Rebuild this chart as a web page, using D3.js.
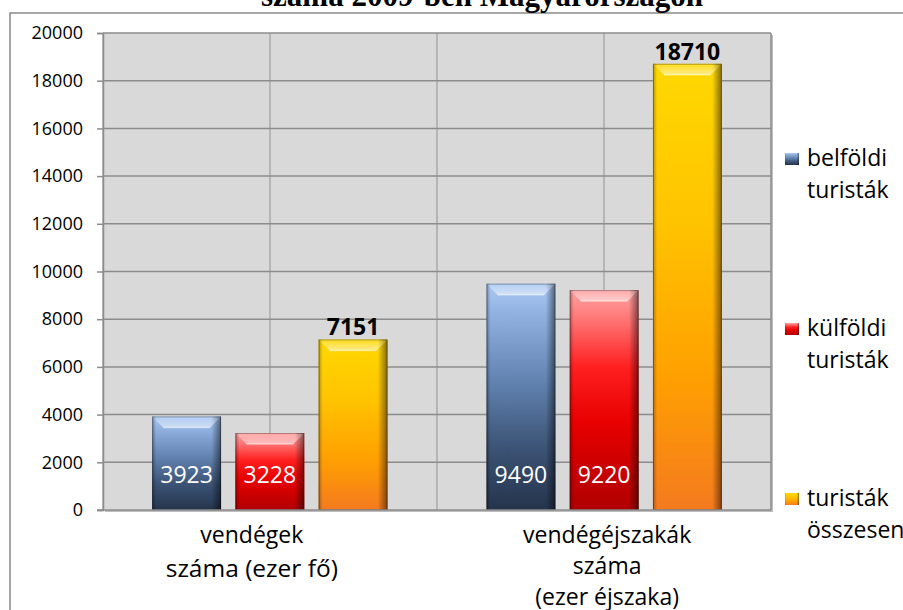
<!DOCTYPE html>
<html>
<head>
<meta charset="utf-8">
<script src="https://cdn.jsdelivr.net/npm/d3@7"></script>
<style>
  body { margin: 0; background: #fff; }
  svg { display: block; }
  text { font-family: "Open Sans", sans-serif; }
</style>
</head>
<body>
<div id="chart"></div>
<script>
// data
const categoryLabels = [["vendégek", "száma (ezer fő)"], ["vendégéjszakák", "száma", "(ezer éjszaka)"]];
const categories = categoryLabels.map(l => l.join(" "));
const seriesNames = ["belföldi turisták", "külföldi turisták", "turisták összesen"];
const belfoldi = [3923, 9490];
const kulfoldi = [3228, 9220];
const osszesen = [7151, 18710];
const yTicks = [0, 2000, 4000, 6000, 8000, 10000, 12000, 14000, 16000, 18000, 20000];
const legendLines = [["belföldi", "turisták"], ["külföldi", "turisták"], ["turisták", "összesen"]];
const titleText = "száma 2009-ben Magyarországon";

const seriesValues = [belfoldi, kulfoldi, osszesen];

const W = 903, H = 610;
const plot = { left: 103, right: 771, top: 33, bottom: 510 };

const svg = d3.select("#chart").append("svg")
    .attr("width", W)
    .attr("height", H);

const defs = svg.append("defs");

// bar body gradients (blue, red, orange)
const gradStops = [
  [["0%", "#abc9f3"], ["12%", "#93b4e3"], ["45%", "#5f80ad"], ["72%", "#3c5476"], ["100%", "#25344c"]],
  [["0%", "#ffa3a3"], ["12%", "#ff7a7a"], ["35%", "#ff2020"], ["60%", "#e80000"], ["100%", "#b00000"]],
  [["0%", "#ffd800"], ["35%", "#ffc400"], ["70%", "#ffa000"], ["100%", "#f47a1f"]]
];
gradStops.forEach((stops, i) => {
  const g = defs.append("linearGradient")
      .attr("id", "body" + i)
      .attr("x1", 0).attr("y1", 0).attr("x2", 0).attr("y2", 1);
  stops.forEach(s => g.append("stop").attr("offset", s[0]).attr("stop-color", s[1]));
});

const side = defs.append("linearGradient")
    .attr("id", "side")
    .attr("x1", 0).attr("y1", 0).attr("x2", 1).attr("y2", 0);
side.append("stop").attr("offset", "0%").attr("stop-color", "#000").attr("stop-opacity", 0.3);
side.append("stop").attr("offset", "6%").attr("stop-color", "#000").attr("stop-opacity", 0);
side.append("stop").attr("offset", "86%").attr("stop-color", "#000").attr("stop-opacity", 0);
side.append("stop").attr("offset", "100%").attr("stop-color", "#000").attr("stop-opacity", 0.5);

const cap = defs.append("linearGradient")
    .attr("id", "cap")
    .attr("x1", 0).attr("y1", 0).attr("x2", 0).attr("y2", 1);
cap.append("stop").attr("offset", "0%").attr("stop-color", "#fff").attr("stop-opacity", 0.1);
cap.append("stop").attr("offset", "100%").attr("stop-color", "#fff").attr("stop-opacity", 0.55);

// chart area border
svg.append("rect")
    .attr("x", 10).attr("y", 13)
    .attr("width", 1000).attr("height", 700)
    .attr("fill", "none")
    .attr("stroke", "#8a8a8a")
    .attr("stroke-width", 1.5);

// title (only its last line is inside the picture)
svg.append("text")
    .attr("x", 482)
    .attr("y", 6)
    .attr("text-anchor", "middle")
    .style("font-family", "'Liberation Serif', 'Times New Roman', serif")
    .style("font-weight", "bold")
    .style("font-size", "31px")
    .text(titleText);

const x0 = d3.scaleBand()
    .domain(categories)
    .range([plot.left, plot.right])
    .paddingInner(0.296)
    .paddingOuter(0.147);

const x1 = d3.scaleBand()
    .domain(seriesNames)
    .range([0, x0.bandwidth()])
    .paddingInner(0.172)
    .paddingOuter(0);

const y = d3.scaleLinear()
    .domain([0, 20000])
    .range([plot.bottom, plot.top]);

// plot area
svg.append("rect")
    .attr("x", plot.left + 2).attr("y", plot.top + 2)
    .attr("width", plot.right - plot.left).attr("height", plot.bottom - plot.top)
    .attr("fill", "#bdbdbd");
svg.append("rect")
    .attr("x", plot.left).attr("y", plot.top)
    .attr("width", plot.right - plot.left).attr("height", plot.bottom - plot.top)
    .attr("fill", "#d9d9d9");

// vertical gridlines
const step = (plot.right - plot.left) / 4;
svg.append("g").selectAll("line")
  .data(d3.range(5))
  .enter().append("line")
    .attr("x1", d => plot.left + d * step)
    .attr("x2", d => plot.left + d * step)
    .attr("y1", plot.top)
    .attr("y2", plot.bottom)
    .attr("stroke", d => d === 4 ? "#8c8c8c" : "#a8a8a8")
    .attr("stroke-width", 1.5);

// y axis with horizontal gridlines
const yAxis = svg.append("g")
    .attr("transform", "translate(" + plot.left + ",0)")
    .call(d3.axisLeft(y).tickValues(yTicks).tickSize(6).tickPadding(14).tickFormat(d3.format("d")));
yAxis.select(".domain").attr("stroke", "#8c8c8c").attr("stroke-width", 1.5);
yAxis.selectAll(".tick line").attr("stroke", "#8c8c8c").attr("stroke-width", 1.5)
    .attr("x1", 0).attr("x2", -6);
yAxis.selectAll(".tick text")
    .style("font-family", "'Open Sans', sans-serif")
    .style("font-size", "18px")
    .attr("fill", "#000");
svg.append("g").selectAll("line")
  .data(yTicks.filter(d => d > 0))
  .enter().append("line")
    .attr("x1", plot.left)
    .attr("x2", plot.right)
    .attr("y1", d => y(d))
    .attr("y2", d => y(d))
    .attr("stroke", "#8c8c8c")
    .attr("stroke-width", 1.5);

// bars
const bev = 11;
const groups = svg.append("g").selectAll("g")
  .data(categories)
  .enter().append("g")
    .attr("transform", d => "translate(" + x0(d) + ",0)");

groups.each(function(cat, ci) {
  const g = d3.select(this);
  seriesNames.forEach((s, si) => {
    const v = seriesValues[si][ci];
    const bx = x1(s), bw = x1.bandwidth(), by = y(v), bh = y(0) - y(v);
    const bar = g.append("g");
    bar.append("rect")
        .attr("x", bx).attr("y", by).attr("width", bw).attr("height", bh)
        .attr("fill", "url(#body" + si + ")");
    bar.append("rect")
        .attr("x", bx).attr("y", by).attr("width", bw).attr("height", bh)
        .attr("fill", "url(#side)");
    bar.append("polygon")
        .attr("points", [[bx, by], [bx + bw, by], [bx + bw - bev, by + bev], [bx + bev, by + bev]].join(" "))
        .attr("fill", "url(#cap)");
    bar.append("line")
        .attr("x1", bx + bev).attr("x2", bx + bw - bev)
        .attr("y1", by + bev).attr("y2", by + bev)
        .attr("stroke", "#fff").attr("stroke-opacity", 0.45).attr("stroke-width", 1.5);
    bar.append("rect")
        .attr("x", bx + 0.5).attr("y", by + 0.5).attr("width", bw - 1).attr("height", bh - 1)
        .attr("fill", "none")
        .attr("stroke", "#000").attr("stroke-opacity", 0.3);

    // value labels
    if (si < 2) {
      g.append("text")
          .attr("x", bx + bw / 2)
          .attr("y", y(0) - 27)
          .attr("text-anchor", "middle")
          .attr("fill", "#fff")
          .style("font-size", "23px")
          .text(v);
    } else {
      g.append("text")
          .attr("x", bx + bw / 2)
          .attr("y", by - 4)
          .attr("text-anchor", "middle")
          .attr("fill", "#000")
          .style("font-size", "23px")
          .style("font-weight", "bold")
          .text(v);
    }
  });
});

// x axis line
svg.append("line")
    .attr("x1", plot.left - 6).attr("x2", plot.right)
    .attr("y1", plot.bottom).attr("y2", plot.bottom)
    .attr("stroke", "#8c8c8c").attr("stroke-width", 1.5);

// category labels (second line of the first one is set a little larger, as in the original)
const labelShift = [-18, 3];
categories.forEach((c, ci) => {
  const t = svg.append("text")
      .attr("text-anchor", "middle")
      .attr("fill", "#000")
      .style("font-size", "23px");
  categoryLabels[ci].forEach((line, li) => {
    t.append("tspan")
        .attr("x", x0(c) + x0.bandwidth() / 2 + labelShift[ci])
        .attr("y", plot.bottom + 33 + li * (ci === 0 ? 34 : 31))
        .style("font-size", ci === 0 && li === 1 ? "24.5px" : null)
        .text(line);
  });
});

// legend
const legend = svg.append("g").selectAll("g")
  .data(seriesNames)
  .enter().append("g")
    .attr("transform", (d, i) => "translate(785," + (166 + i * 170) + ")");
legend.append("rect")
    .attr("x", 0).attr("y", -13)
    .attr("width", 14).attr("height", 12)
    .attr("fill", (d, i) => "url(#body" + i + ")");
legend.append("rect")
    .attr("x", 0).attr("y", -13)
    .attr("width", 14).attr("height", 12)
    .attr("fill", "url(#side)");
legend.append("text")
    .attr("fill", "#000")
    .style("font-size", "23px")
    .each(function(d, i) {
      legendLines[i].forEach((line, li) => {
        d3.select(this).append("tspan")
            .attr("x", 22)
            .attr("y", li * 32)
            .text(line);
      });
    });
</script>
</body>
</html>
